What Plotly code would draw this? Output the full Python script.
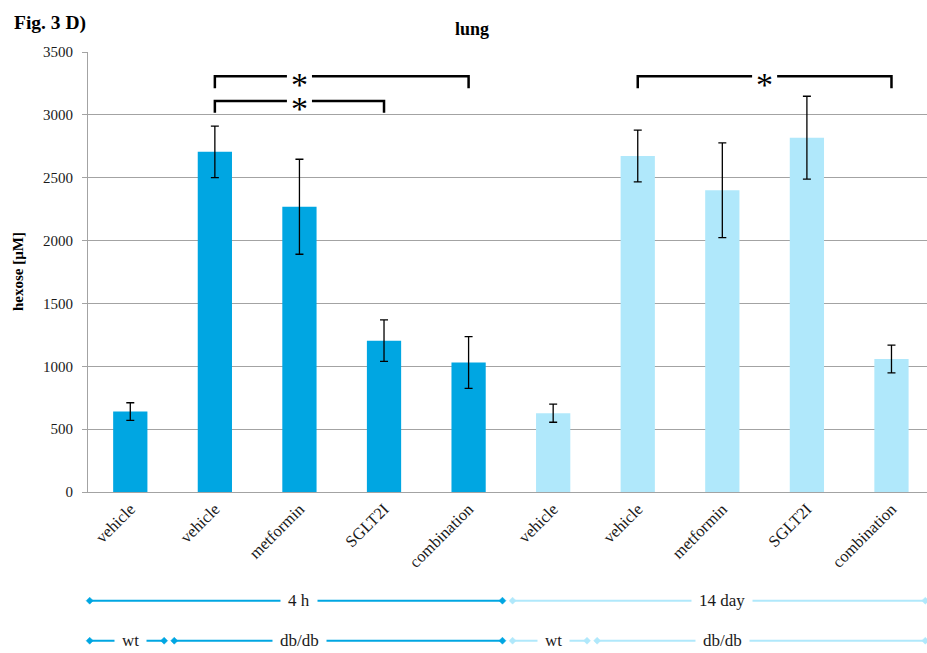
import plotly.graph_objects as go

# ---- data -------------------------------------------------------------
categories = ["vehicle", "vehicle", "metformin", "SGLT2I", "combination",
              "vehicle", "vehicle", "metformin", "SGLT2I", "combination"]
hexose_4h = [640, 2706, 2269, 1204, 1030]
sem_4h = [70, 205, 378, 165, 206]
hexose_14d = [627, 2673, 2400, 2818, 1058]
sem_14d = [72, 206, 377, 330, 110]

y_ticks = [0, 500, 1000, 1500, 2000, 2500, 3000, 3500]

# group bands below the axis: (label, first index, last index, label position)
period_groups = [("4 h", 0, 4, 2.0), ("14 day", 5, 9, 7.0)]
strain_groups = [("wt", 0, 0, 0.0), ("db/db", 1, 4, 2.0),
                 ("wt", 5, 5, 5.0), ("db/db", 6, 9, 7.0)]

# significance brackets: (left index, right index, bracket level, star position)
sig_brackets = [(1, 4, 3307, 2.0), (1, 3, 3111, 2.0), (6, 9, 3307, 7.5)]

# ---- styling ----------------------------------------------------------
DARK = "#00A6E2"
LIGHT = "#B0E8FB"
GRID = "#A3A3A3"
SERIF = "Liberation Serif, Times New Roman, serif"
X_RANGE = [-0.5, 9.42]

xs = list(range(len(categories)))

fig = go.Figure()
fig.add_trace(go.Bar(
    x=xs[:5], y=hexose_4h, marker_color=DARK, marker_line_width=0,
    error_y=dict(type="data", array=sem_4h, color="black", thickness=1.3, width=4),
    width=0.405, showlegend=False))
fig.add_trace(go.Bar(
    x=xs[5:], y=hexose_14d, marker_color=LIGHT, marker_line_width=0,
    error_y=dict(type="data", array=sem_14d, color="black", thickness=1.3, width=4),
    width=0.405, showlegend=False))


def to_paper(x):
    return (x - X_RANGE[0]) / (X_RANGE[1] - X_RANGE[0])


shapes = []
annotations = []

# significance brackets with a star breaking the horizontal line
DROP = 95          # length of the bracket ends, in axis units
STAR_GAP = 0.148   # half gap around the star, in category units
for left, right, level, star_x in sig_brackets:
    lo = level - DROP
    shapes.append(dict(type="path", xref="x", yref="y",
                       path=f"M {left} {lo} L {left} {level} L {star_x - STAR_GAP} {level}",
                       line=dict(color="black", width=2.5)))
    shapes.append(dict(type="path", xref="x", yref="y",
                       path=f"M {star_x + STAR_GAP} {level} L {right} {level} L {right} {lo}",
                       line=dict(color="black", width=2.5)))
    annotations.append(dict(x=star_x, y=level, xref="x", yref="y", text="*",
                            showarrow=False, xanchor="center", yanchor="middle",
                            yshift=-8,
                            font=dict(family=SERIF, size=34, color="black")))

# group bands under the category labels
Y_PERIOD = -0.247
Y_STRAIN = -0.338


def add_band(groups, y):
    for label, first, last, label_x in groups:
        color = DARK if last < 5 else LIGHT
        start = first - 0.5 + 0.02
        end = last + 0.5 - 0.1
        end_marker = True
        if end > X_RANGE[1]:
            end = X_RANGE[1]
            end_marker = False
        shapes.append(dict(type="line", xref="paper", yref="paper",
                           x0=to_paper(start), x1=to_paper(end), y0=y, y1=y,
                           line=dict(color=color, width=2)))
        ends = [start] + ([end] if end_marker else [])
        for e in ends:
            shapes.append(dict(type="path", xref="paper", yref="paper",
                               xsizemode="pixel", ysizemode="pixel",
                               xanchor=to_paper(e), yanchor=y,
                               path="M -3.5 0 L 0 3.5 L 3.5 0 L 0 -3.5 Z",
                               fillcolor=color, line=dict(color=color, width=0.5)))
        annotations.append(dict(x=to_paper(label_x), y=y, xref="paper", yref="paper",
                                text=label, showarrow=False,
                                xanchor="center", yanchor="middle",
                                bgcolor="white", borderpad=7,
                                font=dict(family=SERIF, size=17, color="#1a1a1a")))


add_band(period_groups, Y_PERIOD)
add_band(strain_groups, Y_STRAIN)

# panel label, y-axis title
annotations.append(dict(x=-0.091, y=1.0, xref="paper", yref="paper",
                        yanchor="middle", yshift=29, xanchor="left",
                        text="<b>Fig. 3 D)</b>", showarrow=False,
                        font=dict(family=SERIF, size=19.5, color="black")))
annotations.append(dict(x=-0.0834, y=0.5, xref="paper", yref="paper",
                        xanchor="center", yanchor="middle",
                        text="<b>hexose [µM]</b>", textangle=-90, showarrow=False,
                        font=dict(family=SERIF, size=15, color="black")))

fig.update_layout(
    width=927, height=653,
    margin=dict(l=88, r=0, t=52, b=161),
    paper_bgcolor="white", plot_bgcolor="white",
    title=dict(text="<b>lung</b>", x=(472 - 88) / 839, xref="paper", xanchor="center",
               y=1 - 29 / 653, yanchor="middle",
               font=dict(family=SERIF, size=18, color="black")),
    shapes=shapes, annotations=annotations,
    bargap=0.6,
)
fig.update_xaxes(
    range=X_RANGE, tickmode="array", tickvals=xs, ticktext=categories,
    tickangle=-45, ticks="", showgrid=False,
    showline=True, linecolor=GRID, linewidth=1,
    tickfont=dict(family=SERIF, size=16.5, color="#1a1a1a"),
)
fig.update_yaxes(
    range=[0, 3500], tickvals=y_ticks, showgrid=True, gridcolor=GRID, gridwidth=1,
    showline=True, linecolor=GRID, linewidth=1, ticks="outside", ticklen=5,
    tickcolor=GRID, ticklabelstandoff=6, zeroline=False,
    tickfont=dict(family=SERIF, size=15, color="#1a1a1a"),
)

fig.write_html("out.html")
